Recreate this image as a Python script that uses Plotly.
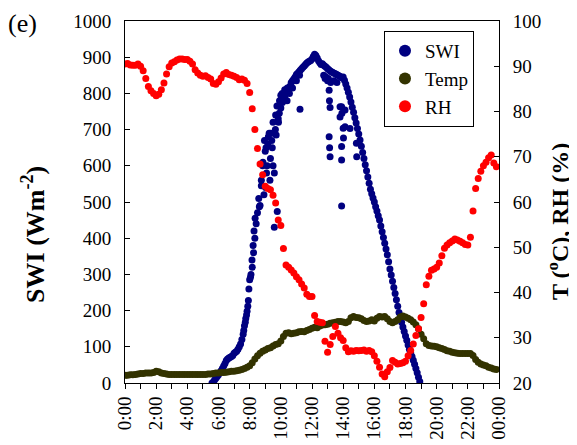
import plotly.graph_objects as go

# ---------------- data ----------------
# SWI (W m-2) sampled every 5 min starting 05:35
swi_start_h = 5 + 35 / 60
swi_step_h = 5 / 60
swi_values = [
    0, 3, 8, 13, 18,
    23, 28, 34, 40, 47, 54, 62, 66, 69, 71, 73, 76,
    82, 85, 88, 93, 100, 108, 120, 135, 158, 178, 198, 228,
    285, 300, 320, 360, 400, 440, 470, 510, 490, 560, 600, 520,
    640, 580, 660, 690, 620, 670, 720, 580, 740, 765, 730, 780,
    795, 800, 790, 810, 805, 815, 812, 820, 830, 835, 840, 845,
    852, 856, 860, 864, 868, 872, 876, 880, 884, 887, 889, 891,
    895, 902, 908, 905, 898, 890, 885, 880, 882, 878, 875, 872,
    868, 865, 862, 860, 858, 856, 854, 852, 850, 848, 846, 843,
    845, 836, 826, 815, 803, 790, 776, 762, 748, 733, 718, 703,
    688, 671, 654, 637, 620, 603, 586, 569, 552, 535, 523, 511,
    500, 487, 475, 462, 450, 434, 418, 402, 386, 370, 354, 335,
    315, 298, 281, 264, 247, 230, 212, 195, 182, 168, 155, 142,
    130, 118, 105, 93, 83, 73, 63, 52, 40, 28, 16, 4,
]
# additional SWI readings (cloud fluctuations), time in hours
swi_extra_t = [8.62, 8.75, 8.85, 8.95, 9.02, 9.05, 9.12, 9.2, 9.3, 9.35, 9.45, 9.5,
               9.55, 9.58, 9.65, 9.7, 9.77, 9.85, 9.9, 10.0, 10.1, 10.25, 10.4, 10.55,
               10.75, 11.0, 11.2, 11.23, 12.75, 12.84, 12.9, 13.0, 13.05, 13.1, 13.12,
               13.16, 13.1, 13.13, 13.16, 13.2, 13.4, 13.6, 13.8, 13.8, 13.9, 13.92,
               14.0, 14.02, 13.9, 13.9, 13.9, 14.12, 14.12, 14.44, 14.87, 14.85,
               7.62, 7.72, 7.8, 7.88, 7.95, 8.05, 8.15, 8.22, 8.28, 8.35]
swi_extra_v = [487, 545, 610, 670, 540, 650, 600, 680, 560, 690, 650, 600,
               690, 430, 700, 685, 474, 720, 745, 760, 775, 790, 780, 800,
               815, 835, 850, 756, 850, 841, 845, 835, 841, 809, 780,
               761, 680, 650, 625, 830, 835, 830, 763, 735, 763, 745,
               704, 677, 653, 616, 489, 754, 708, 703, 625, 662,
               145, 168, 188, 212, 260, 292, 340, 380, 420, 455]

# Temperature (deg C) and RH (%) every 10 min from 00:00 to 23:50
met_step_h = 10 / 60
temp_values = [
    21.7, 21.7, 21.8, 21.8, 21.9, 22.0,
    22.1, 22.1, 22.2, 22.2, 22.2, 22.3,
    22.6, 22.5, 22.2, 22.1, 22.0, 21.9,
    21.9, 21.9, 21.9, 21.9, 21.9, 21.9,
    21.9, 21.9, 21.9, 21.9, 21.9, 21.9,
    21.9, 21.9, 22.0, 22.0, 22.1, 22.2,
    22.2, 22.3, 22.3, 22.4, 22.5, 22.6,
    22.6, 22.7, 22.8, 23.0, 23.2, 23.5,
    23.8, 24.5, 25.3, 26.0, 26.6, 27.0,
    27.3, 27.6, 27.8, 28.2, 28.5, 28.7,
    29.3, 30.3, 31.0, 31.1, 30.9, 31.0,
    31.1, 31.3, 31.4, 31.3, 31.6, 31.8,
    32.1, 32.3, 32.2, 32.6, 32.8, 32.9,
    33.0, 33.2, 33.3, 33.4, 33.6, 33.6,
    33.5, 33.3, 33.6, 34.4, 34.7, 34.5,
    34.4, 34.2, 33.8, 33.6, 33.7, 34.0,
    33.7, 34.3, 34.7, 34.6, 34.7, 34.2,
    33.6, 33.3, 33.6, 34.0, 34.6, 34.8,
    34.6, 34.3, 34.0, 33.5, 32.9, 32.0,
    30.8, 29.8, 28.7, 28.3, 28.2, 28.1,
    28.0, 27.8, 27.6, 27.4, 27.1, 27.0,
    26.8, 26.7, 26.6, 26.5, 26.5, 26.5,
    26.5, 26.5, 26.1, 25.2, 24.6, 24.2,
    24.0, 23.8, 23.5, 23.3, 23.1, 23.0,
]
rh_values = [
    90.5, 90.6, 90.3, 90.2, 90.2, 90.5,
    90.0, 89.0, 87.3, 85.5, 84.6, 84.0,
    83.5, 83.8, 84.8, 86.3, 88.3, 89.9,
    90.7, 91.0, 91.4, 91.6, 91.6, 91.5,
    91.5, 91.1, 90.5, 89.2, 88.5, 88.0,
    87.8, 87.9, 87.5, 87.2, 86.2, 86.0,
    86.6, 87.4, 88.3, 88.6, 88.2, 88.0,
    87.8, 87.5, 87.0, 87.2, 86.9, 86.2,
    84.2, 80.6, 76.0, 71.8, 68.4, 66.0,
    63.5, 63.0, 62.7, 61.5, 59.8, 56.0,
    54.8, 49.7, 46.1, 45.6, 45.0, 44.3,
    43.5, 42.8, 41.9, 41.0, 39.6, 39.1,
    39.1, 34.9, 33.6, 33.4, 33.3, 29.2,
    26.8, 28.5, 30.3, 32.5, 31.0, 30.0,
    29.4, 27.8, 26.9, 27.1, 27.0, 27.2,
    27.1, 27.2, 27.3, 27.0, 27.2, 26.9,
    26.0, 24.8, 23.5, 22.0, 21.4, 22.5,
    23.4, 25.0, 24.6, 24.2, 24.3, 24.5,
    24.8, 26.0, 27.2, 28.6, 30.5, 32.0,
    34.5, 37.5, 41.7, 43.6, 44.9, 45.2,
    45.6, 46.5, 48.1, 49.8, 50.5, 51.0,
    51.4, 51.8, 51.6, 51.3, 51.0, 50.6,
    50.5, 52.2, 58.0, 63.0, 65.2, 66.8,
    68.0, 68.8, 69.8, 70.4, 68.6, 67.8,
]

x_tick_vals = list(range(0, 25, 2))
x_tick_text = ["0:00", "2:00", "4:00", "6:00", "8:00", "10:00", "12:00",
               "14:00", "16:00", "18:00", "20:00", "22:00", "00:00"]

# ---------------- figure ----------------
swi_t = [swi_start_h + i * swi_step_h for i in range(len(swi_values))] + swi_extra_t
swi_v = swi_values + swi_extra_v
met_t = [i * met_step_h for i in range(len(temp_values))]

FONT = "Liberation Serif"
TICK = 19
navy = "#000080"
olive = "#333300"
red = "#FF0000"

fig = go.Figure()
fig.add_trace(go.Scatter(x=swi_t, y=swi_v, mode="markers", name="SWI",
                         marker=dict(color=navy, size=7)))
fig.add_trace(go.Scatter(x=met_t, y=temp_values, mode="markers", name="Temp",
                         yaxis="y2", marker=dict(color=olive, size=7)))
fig.add_trace(go.Scatter(x=met_t, y=rh_values, mode="markers", name="RH",
                         yaxis="y2", marker=dict(color=red, size=7)))

# page body has an 8px default margin: figure is sized to fill the rest
fig.update_layout(
    width=569, height=437,
    margin=dict(l=117, r=78, t=13, b=61.5, autoexpand=False),
    paper_bgcolor="white", plot_bgcolor="white",
    font=dict(family=FONT, size=TICK, color="black"),
    showlegend=True,
    legend=dict(x=0.6925, y=0.9725, xanchor="left", yanchor="top",
                bgcolor="white", bordercolor="black", borderwidth=1,
                font=dict(family=FONT, size=19, color="black"),
                itemsizing="constant", itemwidth=30),
    xaxis=dict(range=[0, 24], tickmode="array", tickvals=x_tick_vals,
               ticktext=x_tick_text, tickangle=-90, ticks="outside", ticklen=5,
               tickcolor="black", showline=True, linecolor="black", linewidth=1,
               mirror=True, showgrid=False, zeroline=False, automargin=False,
               minor=dict(tickvals=list(range(1, 24, 2)), ticks="outside",
                          ticklen=5, tickcolor="black"),
               tickfont=dict(family=FONT, size=TICK)),
    yaxis=dict(range=[0, 1000], dtick=100, ticks="inside", ticklen=5,
               tickcolor="black", showline=True, linecolor="black", linewidth=1,
               showgrid=False, zeroline=False, ticklabelstandoff=9, automargin=False,
               tickfont=dict(family=FONT, size=TICK)),
    yaxis2=dict(range=[20, 100], dtick=10, overlaying="y", side="right",
                ticks="inside", ticklen=5, tickcolor="black", showline=True,
                linecolor="black", linewidth=1, showgrid=False, zeroline=False,
                ticklabelstandoff=9, automargin=False,
                tickfont=dict(family=FONT, size=TICK)),
    annotations=[
        dict(text="<b>SWI (Wm<sup>-2</sup>)</b>", xref="paper", yref="paper",
             x=-0.245, y=0.41, xanchor="center", yanchor="middle",
             textangle=-90, showarrow=False,
             font=dict(family=FONT, size=26, color="black")),
        dict(text="<b>T (<sup>o</sup>C), RH (%)</b>", xref="paper", yref="paper",
             x=1.158, y=0.445, xanchor="center", yanchor="middle",
             textangle=-90, showarrow=False,
             font=dict(family=FONT, size=24, color="black")),
        dict(text="(e)", xref="paper", yref="paper", x=-0.273, y=0.994,
             xanchor="center", yanchor="middle", showarrow=False,
             font=dict(family=FONT, size=26, color="black")),
    ],
)

fig.write_html("out.html")
